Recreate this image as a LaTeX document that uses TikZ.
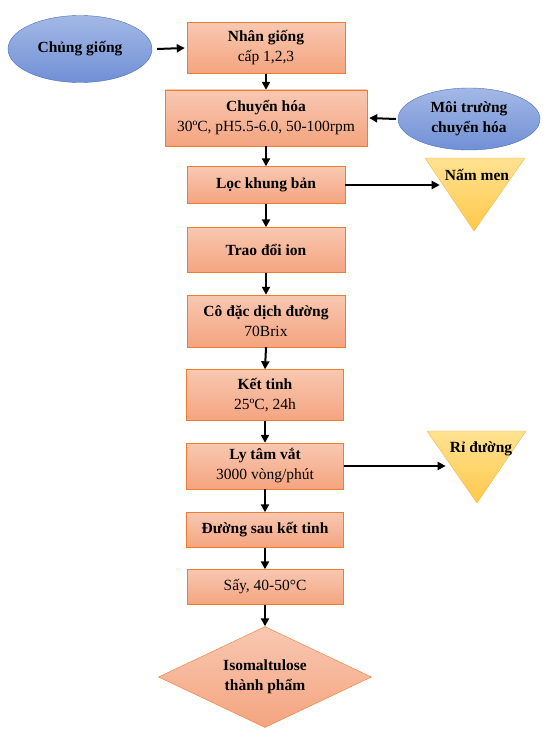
\documentclass[tikz,border=0pt]{standalone}
\usepackage{fontspec}
\setmainfont{Liberation Serif}
\usetikzlibrary{shapes.geometric, arrows.meta}
\definecolor{boxtop}{HTML}{F8C8B2}
\definecolor{boxbot}{HTML}{F4A47F}
\definecolor{boxline}{HTML}{ED7D31}
\definecolor{elltop}{HTML}{A3B8E5}
\definecolor{ellbot}{HTML}{7090D6}
\definecolor{ellline}{HTML}{4A6EBB}
\definecolor{tritop}{HTML}{FFE291}
\definecolor{tribot}{HTML}{FFC84A}
\definecolor{triline}{HTML}{F2B84B}
\begin{document}
\begin{tikzpicture}[x = 1pt, y = -1pt,
  font = \fontsize{15.5}{20}\selectfont,
  stepbox/.style = {rectangle, draw = boxline, top color = boxtop, bottom color = boxbot, align = center, inner sep = 0pt},
  source/.style = {ellipse, draw = ellline, top color = elltop, bottom color = ellbot, align = center, inner sep = 0pt},
  flow/.style = {line width = 2pt, -{Triangle[length = 8pt, width = 8pt]}}]
\useasboundingbox (0,0) rectangle (550,741);
% main line
\node[stepbox, minimum width = 158pt, minimum height = 51pt] (nhan) at (266,48) {\textbf{Nhân giống}\\cấp 1,2,3};
\node[stepbox, minimum width = 202pt, minimum height = 56pt] (chuyen) at (266,118) {\textbf{Chuyển hóa}\\30ºC, pH5.5-6.0, 50-100rpm};
\node[stepbox, minimum width = 158pt, minimum height = 37pt] (loc) at (266,185) {\textbf{Lọc khung bản}};
\node[stepbox, minimum width = 158pt, minimum height = 45pt] (trao) at (266,250) {\textbf{Trao đổi ion}};
\node[stepbox, minimum width = 158pt, minimum height = 52pt] (codac) at (266,321) {\textbf{Cô đặc dịch đường}\\70Brix};
\node[stepbox, minimum width = 157pt, minimum height = 51pt] (ket) at (265,395) {\textbf{Kết tinh}\\25ºC, 24h};
\node[stepbox, minimum width = 157pt, minimum height = 46pt] (lytam) at (265,466) {\textbf{Ly tâm vắt}\\3000 vòng/phút};
\node[stepbox, minimum width = 157pt, minimum height = 35pt] (duong) at (265,530) {\textbf{Đường sau kết tinh}};
\node[stepbox, minimum width = 156pt, minimum height = 35pt] (say) at (265,587) {Sấy, 40-50°C};
\node[diamond, aspect = 2.1, draw = boxline, top color = boxtop, bottom color = boxbot, align = center, inner sep = 0pt,
  minimum width = 213pt, minimum height = 101pt] (thanh) at (265,677) {\textbf{Isomaltulose}\\\textbf{thành phẩm}};
% inputs
\node[source, minimum width = 144pt, minimum height = 67pt] (chung) at (80,49) {\textbf{Chủng giống}};
\node[source, minimum width = 142pt, minimum height = 62pt] (moi) at (469,119) {\textbf{Môi trường}\\\textbf{chuyển hóa}};
% outputs
\shade[draw = triline, top color = tritop, bottom color = tribot] (425,158) -- (525,158) -- (474,231) -- cycle;
\node[inner sep = 5pt] (nam) at (477,175) {\textbf{Nấm men}};
\shade[draw = triline, top color = tritop, bottom color = tribot] (427,431) -- (526,431) -- (477,503) -- cycle;
\node[inner sep = 4pt] (ri) at (481,449) {\textbf{Rỉ đường}};
% arrows
\draw[flow] ([xshift = 5pt]chung.east) to ([xshift = -2pt]nhan.west);
\draw[flow] ([xshift = -2pt]moi.west) to ([xshift = 2pt]chuyen.west -| chuyen.east);
\draw[flow] (loc.east) to (loc.east -| nam.west);
\draw[flow] (lytam.east) to (lytam.east -| ri.west);
\foreach \a/\b in {nhan/chuyen, chuyen/loc, loc/trao, trao/codac, codac/ket, ket/lytam, lytam/duong, duong/say, say/thanh} {
	\draw[flow] (\a.south) to (\b.north);
}
\end{tikzpicture}
\end{document}
